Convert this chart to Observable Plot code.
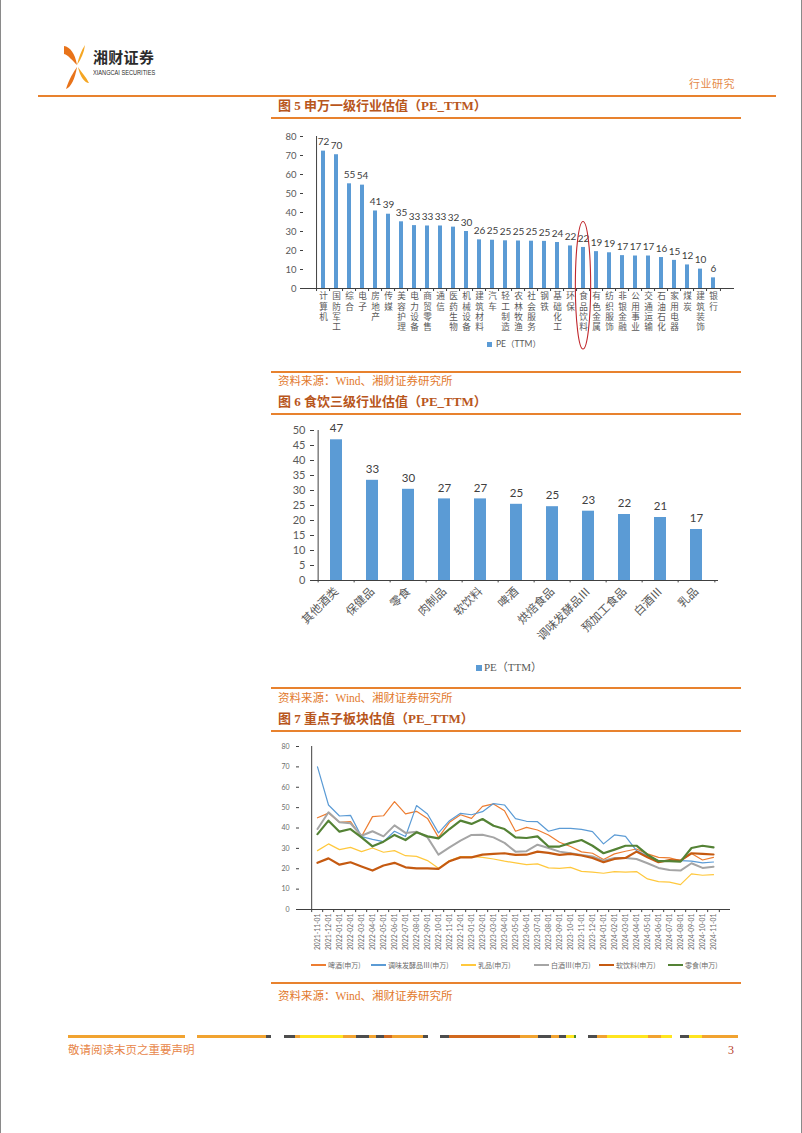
<!DOCTYPE html>
<html><head><meta charset="utf-8">
<script src="https://cdn.jsdelivr.net/npm/d3@7"></script>
<script src="https://cdn.jsdelivr.net/npm/@observablehq/plot@0.6"></script>
<style>
body{margin:0;background:#fff;}
#page{position:relative;width:800px;height:1133px;overflow:hidden;background:#fff;border-left:1px solid #8a8a8a;border-right:1px solid #8a8a8a;font-family:"Noto Sans CJK SC",sans-serif;}
.abs{position:absolute;white-space:nowrap;}
.rule{position:absolute;height:1.6px;background:#E8822E;}
.title{position:absolute;left:277px;font-family:"Liberation Serif","Noto Sans CJK SC",serif;font-weight:bold;font-size:13px;line-height:16px;color:#B8561C;white-space:nowrap;}
.src{position:absolute;left:277px;font-family:"Liberation Serif","Noto Sans CJK SC",serif;font-size:11.5px;line-height:14px;color:#E2792C;white-space:nowrap;}
.chart{position:absolute;left:270px;}
.lg3{position:absolute;top:960px;font-size:7px;line-height:10px;color:#6b6b6b;display:flex;align-items:center;white-space:nowrap;}
.lg3 span.sw{display:inline-block;width:15px;margin-right:2px;}
#footbar{position:absolute;left:67px;top:1035px;height:3px;display:flex;}
#footbar div{height:3px;}
</style></head>
<body><div id="page">
  <!-- header -->
  <svg class="abs" style="left:60px;top:43px" width="30" height="48" viewBox="0 0 30 48">
    <path d="M3 3 C9 4 14 10 16 22 C12 18 7 12 3 11 Z" fill="#E8731A"/>
    <path d="M24 2 C23 10 20 16 16 22 C18 14 20 8 24 2 Z" fill="#F5A623"/>
    <path d="M16 24 C12 30 8 36 5 46 C10 44 14 36 16 24 Z" fill="#E8731A"/>
    <path d="M17 24 C21 30 25 34 28 40 C24 40 19 34 17 24 Z" fill="#F5A623"/>
  </svg>
  <div class="abs" style="left:92px;top:47px;font-size:15px;font-weight:bold;color:#2b2b2b;line-height:20px;letter-spacing:0.3px;">湘财证券</div>
  <div class="abs" style="left:92px;top:69px;font-family:'Liberation Sans',sans-serif;font-size:6.4px;color:#2b2b2b;line-height:8px;transform:scaleX(0.88);transform-origin:left;">XIANGCAI SECURITIES</div>
  <div class="abs" style="left:688px;top:76px;font-size:11px;color:#E58A4A;line-height:14px;letter-spacing:0.5px;">行业研究</div>
  <div class="rule" style="left:37px;top:95px;width:738px;height:2px;"></div>

  <div class="title" style="top:98px;">图 5 申万一级行业估值（PE_TTM）</div>
  <div class="rule" style="left:270px;top:117px;width:470px;"></div>
  <div class="chart" id="c1" style="top:125px;"></div>
  <div class="abs" style="left:486px;top:338px;font-family:Lato,'Noto Sans CJK SC',sans-serif;font-size:8.5px;color:#595959;line-height:12px;"><span style="display:inline-block;width:5px;height:5px;background:#5B9BD5;margin-right:4px;"></span>PE（TTM）</div>
  <div class="rule" style="left:270px;top:371px;width:470px;"></div>
  <div class="src" style="top:374px;">资料来源：Wind、湘财证券研究所</div>

  <div class="title" style="top:394px;">图 6 食饮三级行业估值（PE_TTM）</div>
  <div class="rule" style="left:270px;top:413px;width:470px;"></div>
  <div class="chart" id="c2" style="top:415px;"></div>
  <div class="abs" style="left:475px;top:660px;font-family:'Liberation Serif','Noto Sans CJK SC',serif;font-size:11px;color:#595959;line-height:14px;"><span style="display:inline-block;width:6px;height:6px;background:#5B9BD5;margin-right:2px;"></span>PE（TTM）</div>
  <div class="rule" style="left:270px;top:687px;width:470px;"></div>
  <div class="src" style="top:691px;">资料来源：Wind、湘财证券研究所</div>

  <div class="title" style="top:711px;">图 7 重点子板块估值（PE_TTM）</div>
  <div class="rule" style="left:270px;top:730px;width:470px;"></div>
  <div class="chart" id="c3" style="top:735px;"></div>
  <div id="lg3"></div>
  <div class="rule" style="left:270px;top:982px;width:470px;"></div>
  <div class="src" style="top:989px;">资料来源：Wind、湘财证券研究所</div>

  <div id="footbar"></div>
  <div class="abs" style="left:67px;top:1043px;font-family:'Liberation Serif','Noto Sans CJK SC',serif;font-size:11.5px;color:#E8874A;line-height:14px;">敬请阅读末页之重要声明</div>
  <div class="abs" style="left:727px;top:1043px;font-family:'Liberation Serif',serif;font-size:12px;color:#B8402A;line-height:14px;">3</div>
</div>
<script>
// ---------- Figure 5 data ----------
const industries = ["计算机","国防军工","综合","电子","房地产","传媒","美容护理","电力设备","商贸零售","通信","医药生物","机械设备","建筑材料","汽车","轻工制造","农林牧渔","社会服务","钢铁","基础化工","环保","食品饮料","有色金属","纺织服饰","非银金融","公用事业","交通运输","石油石化","家用电器","煤炭","建筑装饰","银行"];
const industryPE = [72.3,70.4,55.1,54.4,40.8,39.1,35.1,33.1,32.9,32.9,32.3,30.0,25.6,25.4,25.1,25.0,24.9,24.8,24.2,22.4,21.6,19.4,18.8,17.3,17.1,17.1,16.3,14.8,12.4,10.2,5.6];
const highlightIndustry = "食品饮料";

// ---------- Figure 6 data ----------
const foodCats = ["其他酒类","保健品","零食","肉制品","软饮料","啤酒","烘焙食品","调味发酵品Ⅲ","预加工食品","白酒Ⅲ","乳品"];
const foodPE = [46.9,33.4,30.4,27.2,27.2,25.4,24.6,23.1,22.0,21.0,17.0];

// ---------- Figure 7 data ----------
const dates = ["2021-11-01","2021-12-01","2022-01-01","2022-02-01","2022-03-01","2022-04-01","2022-05-01","2022-06-01","2022-07-01","2022-08-01","2022-09-01","2022-10-01","2022-11-01","2022-12-01","2023-01-01","2023-02-01","2023-03-01","2023-04-01","2023-05-01","2023-06-01","2023-07-01","2023-08-01","2023-09-01","2023-10-01","2023-11-01","2023-12-01","2024-01-01","2024-02-01","2024-03-01","2024-04-01","2024-05-01","2024-06-01","2024-07-01","2024-08-01","2024-09-01","2024-10-01","2024-11-01"];
const seriesNames = ["啤酒(申万)","调味发酵品Ⅲ(申万)","乳品(申万)","白酒Ⅲ(申万)","软饮料(申万)","零食(申万)"];
const beer = [45,47.3,42.8,43.1,35.8,45.6,46,52.9,46.9,48.2,44.7,35.4,42.8,46.5,44.7,50.6,51.8,48.5,38.4,40.3,39,36.6,33,30.9,28.3,27.6,24.5,27.3,28.6,29.7,27.3,25.6,25.3,24,27.5,24.3,25.6];
const seasoning = [70,51.3,45.9,46.2,35.8,34.4,33.3,38.4,35.8,51,46.9,37.6,43.6,47.2,46.5,48,52,51.3,44.6,43.3,43.1,38.4,39.8,39.8,39.3,38.2,32.2,36.6,35.9,28.9,26.4,24,24,24,23.7,22.9,23.3];
const dairy = [28.9,32.2,29.4,30.5,28.4,30.2,28.1,28.9,26.4,26.1,24,20.3,24,26,26,25.6,24.8,23.7,22.9,22,22.4,20.4,20.2,20.7,18.7,18.3,17.8,18.6,18.3,18.6,15,13.7,13.4,12.2,17.5,16.8,17.1];
const baijiu = [39.5,47.7,42.8,42.3,36.2,38.4,35.9,41.3,37.6,38.2,35.4,26.9,30.5,33.8,36.6,36.7,35.4,32.7,28.4,28.6,31.8,30.2,28.4,27.6,26.7,26,24,25.3,25.3,24.8,22.7,20.4,19.4,19.1,22.7,20.4,21];
const softDrink = [22.9,25.1,22,23.2,21.1,19.1,21.6,22.9,20.7,20.2,20.2,19.9,23.7,25.6,25.6,26.9,27.3,27.6,26.8,26.9,28.4,27.8,26.8,27.3,26.5,25.3,23.2,24.8,25.3,28.4,25.6,23.2,24.3,24,27.6,27.3,27];
const snacks = [37,43.6,38.2,39.5,35.4,31,33.3,36.6,34.1,37.9,35.9,34.9,39.5,43.6,42,44.4,41.1,39.5,35.4,35.1,35.9,30.9,30.9,32.7,34.1,31.3,27.6,29.4,31.3,31.3,26.9,23.7,23.7,23.5,30.2,31.3,30.5];
const seriesValues = [beer, seasoning, dairy, baijiu, softDrink, snacks];
const seriesColors = ["#ED7D31","#5B9BD5","#FFC83D","#A5A5A5","#C55A11","#548235"];
const seriesWidths = [1.2,1.2,1.2,2,2.2,2.2];

const AX = "#404040";
const sansFont = "Lato, 'Noto Sans CJK SC', sans-serif";

// ---------- Chart 1 ----------
{
  const W = 470, H = 225, ml = 32, mr = 7, mt = 11, mb = 62;
  const rows = industries.map((name, i) => ({name, pe: industryPE[i]}));
  const step = (W - ml - mr) / industries.length;
  // vertical (stacked, upright) category labels: one text mark per character row
  const charRows = industries.flatMap(name => Array.from(name).map((ch, k) => ({name, ch, k})));
  const maxLen = d3.max(industries, d => d.length);
  const labelMarks = d3.range(maxLen).map(k =>
    Plot.text(charRows.filter(d => d.k === k), {
      x: "name", frameAnchor: "bottom", text: "ch", lineAnchor: "top",
      dy: 4.5 + k * 10.4, fontSize: 8.6, fill: "#595959", fontFamily: "'Noto Sans CJK SC', sans-serif"
    })
  );
  const c1 = Plot.plot({
    width: W, height: H, marginLeft: ml, marginRight: mr, marginTop: mt, marginBottom: mb,
    style: {background: "transparent", color: "#595959", fontFamily: sansFont},
    x: {domain: industries, paddingInner: 0.66, paddingOuter: 0.33, axis: null, label: null},
    y: {domain: [0, 80], axis: null, label: null},
    marks: [
      Plot.barY(rows, {x: "name", y: "pe", fill: "#5B9BD5"}),
      Plot.text(rows, {x: "name", y: "pe", text: d => String(Math.round(d.pe)), dy: -9, fontSize: 10, fill: "#404040"}),
      Plot.ruleY([0], {stroke: AX}),
      Plot.ruleX([industries[0]], {dx: -step / 2, stroke: AX}),
      Plot.ruleX(industries, {y1: 0, y2: -1.6, dx: -step / 2, stroke: AX}),
      Plot.ruleX([industries[industries.length - 1]], {y1: 0, y2: -1.6, dx: step / 2, stroke: AX}),
      Plot.axisY({ticks: d3.range(0, 81, 10), label: null, tickSize: 3, tickPadding: 4, fontSize: 9.5, stroke: AX}),
      ...labelMarks
    ]
  });
  const xs = c1.scale("x"), ys = c1.scale("y");
  const cx = xs.apply(highlightIndustry) + xs.bandwidth / 2;
  const top = ys.apply(35), bottom = H - 1;
  d3.select(c1).append("ellipse")
    .attr("cx", cx).attr("cy", (top + bottom) / 2)
    .attr("rx", step * 0.55).attr("ry", (bottom - top) / 2)
    .attr("fill", "none").attr("stroke", "#C0282D").attr("stroke-width", 1.1);
  document.getElementById("c1").appendChild(c1);
}

// ---------- Chart 2 ----------
{
  const W = 470, H = 240, ml = 43, mr = 23, mt = 15, mb = 75;
  const rows = foodCats.map((name, i) => ({name, pe: foodPE[i]}));
  const step = (W - ml - mr) / foodCats.length;
  const c2 = Plot.plot({
    width: W, height: H, marginLeft: ml, marginRight: mr, marginTop: mt, marginBottom: mb,
    style: {background: "transparent", color: "#595959", fontFamily: sansFont},
    x: {domain: foodCats, paddingInner: 0.68, paddingOuter: 0.34, axis: null, label: null},
    y: {domain: [0, 50], axis: null, label: null},
    marks: [
      Plot.barY(rows, {x: "name", y: "pe", fill: "#5B9BD5"}),
      Plot.text(rows, {x: "name", y: "pe", text: d => String(Math.round(d.pe)), dy: -11, fontSize: 11.5, fill: "#404040"}),
      Plot.ruleY([0], {stroke: AX, strokeWidth: 1.2}),
      Plot.ruleX([foodCats[0]], {dx: -step / 2, stroke: AX}),
      Plot.ruleX(foodCats, {y1: 0, y2: -0.8, dx: -step / 2, stroke: AX}),
      Plot.ruleX([foodCats[foodCats.length - 1]], {y1: 0, y2: -0.8, dx: step / 2, stroke: AX}),
      Plot.axisY({ticks: d3.range(0, 51, 5), label: null, tickSize: 4, tickPadding: 5, fontSize: 11, stroke: AX}),
      Plot.axisX({label: null, tickSize: 0, tickPadding: 9, tickRotate: -45, fontSize: 11.5, fontFamily: "'Noto Sans CJK SC', sans-serif"})
    ]
  });
  document.getElementById("c2").appendChild(c2);
}

// ---------- Chart 3 ----------
{
  const W = 470, H = 220, ml = 28, mr = 11, mt = 11, mb = 46;
  const step = (W - ml - mr) / dates.length;
  const lines = seriesNames.map((name, s) => {
    const rows = dates.map((date, i) => ({date, value: seriesValues[s][i]}));
    return Plot.line(rows, {x: "date", y: "value", stroke: seriesColors[s], strokeWidth: seriesWidths[s]});
  });
  const c3 = Plot.plot({
    width: W, height: H, marginLeft: ml, marginRight: mr, marginTop: mt, marginBottom: mb,
    style: {background: "transparent", color: "#6b6b6b", fontFamily: sansFont},
    x: {type: "point", domain: dates, padding: 0.5, axis: null, label: null},
    y: {domain: [0, 80], axis: null, label: null},
    marks: [
      Plot.ruleY([0], {stroke: AX}),
      Plot.ruleX([dates[0]], {dx: -step / 2, stroke: AX}),
      Plot.ruleX(dates, {y1: 0, y2: -1.5, dx: -step / 2, stroke: AX}),
      Plot.ruleX([dates[dates.length - 1]], {y1: 0, y2: -1.5, dx: step / 2, stroke: AX}),
      ...lines,
      Plot.axisY({ticks: d3.range(0, 81, 10), label: null, tickSize: 3, tickPadding: 7, fontSize: 7, stroke: AX}),
      Plot.axisX({label: null, tickSize: 0, tickPadding: 4, tickRotate: -90, fontSize: 6.8})
    ]
  });
  document.getElementById("c3").appendChild(c3);

  // legend
  const lgX = [310, 370, 460, 533, 598, 667];
  const lg = document.getElementById("lg3");
  seriesNames.forEach((name, s) => {
    const d = document.createElement("div");
    d.className = "lg3";
    d.style.left = lgX[s] + "px";
    d.innerHTML = `<span class="sw" style="height:${seriesWidths[s]}px;background:${seriesColors[s]}"></span>${name}`;
    lg.appendChild(d);
  });
}

// ---------- footer bar ----------
{
  const O = "#F1A330", Y = "#FFE51F", G = "#4D4D4D", D = "#D2691E", N = "#4E8A2E", Wt = "transparent";
  const segs = [[117,O],[12,Wt],[69,O],[5,G],[13,Wt],[11,G],[5,O],[43,Y],[13,O],[13,G],[7,O],[8,G],[8,D],[31,O],[5,G],[12,Wt],[9,G],[71,D],[18,O],[13,G],[8,O],[7,G],[8,Y],[2,N],[12,Wt],[9,G],[10,O],[41,Y],[13,O],[11,Y],[8,Wt],[9,G],[13,Y],[36,O]];
  const fb = document.getElementById("footbar");
  segs.forEach(([w, c]) => {
    const d = document.createElement("div");
    d.style.width = w + "px"; d.style.background = c;
    fb.appendChild(d);
  });
}
</script>
</body></html>
